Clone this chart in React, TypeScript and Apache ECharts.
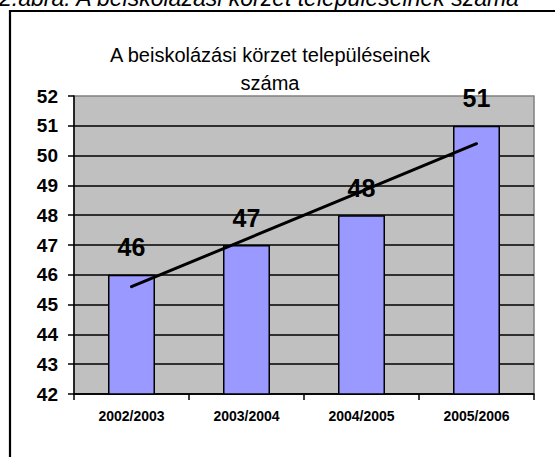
import React, { useEffect, useRef } from "react";
import * as echarts from "echarts";

const categories = ["2002/2003", "2003/2004", "2004/2005", "2005/2006"];
const settlements = [46, 47, 48, 51];
const trendValues = [45.6, 47.2, 48.8, 50.4];
const yMin = 42;
const yMax = 52;
const chartTitle = "A beiskolázási körzet településeinek\nszáma";
const caption = "2.ábra: A beiskolázási körzet településeinek száma";

const FONT = "Arial, 'Liberation Sans', sans-serif";

export default function App() {
  const ref = useRef<HTMLDivElement>(null);
  useEffect(() => {
    if (!ref.current) return;
    const chart = echarts.init(ref.current, null, { renderer: "svg" });
    chart.setOption({
      animation: false,
      backgroundColor: "#ffffff",
      title: {
        text: chartTitle,
        left: 265,
        top: 36,
        textAlign: "center",
        textStyle: {
          fontFamily: FONT,
          fontSize: 20,
          fontWeight: "normal",
          color: "#000",
          lineHeight: 28,
        },
      },
      graphic: [
        {
          type: "text",
          left: -1,
          top: -14,
          silent: true,
          style: {
            text: caption,
            font: "italic 23px " + FONT,
            fill: "#000",
          },
        },
        {
          type: "rect",
          shape: { x: 10, y: 11, width: 600, height: 470 },
          silent: true,
          z: -1,
          style: { fill: "none", stroke: "#000", lineWidth: 2.2 },
        },
      ],
      grid: {
        left: 74,
        right: 21,
        top: 96,
        bottom: 63,
        show: true,
        backgroundColor: "#C0C0C0",
        borderColor: "#808080",
        borderWidth: 1.5,
      },
      xAxis: {
        type: "category",
        data: categories,
        boundaryGap: true,
        axisLine: { show: true, lineStyle: { color: "#000", width: 1.5 } },
        axisTick: { show: true, length: 6, alignWithLabel: false, lineStyle: { color: "#000", width: 1.5 } },
        axisLabel: {
          fontFamily: FONT,
          fontSize: 14,
          fontWeight: "bold",
          color: "#000",
          margin: 15,
        },
        splitLine: { show: false },
      },
      yAxis: {
        type: "value",
        min: yMin,
        max: yMax,
        interval: 1,
        axisLine: { show: true, lineStyle: { color: "#000", width: 1.5 } },
        axisTick: { show: true, length: 6, lineStyle: { color: "#000", width: 1.5 } },
        axisLabel: {
          fontFamily: FONT,
          fontSize: 19,
          fontWeight: "bold",
          color: "#000",
          margin: 16,
        },
        splitLine: {
          show: true,
          showMaxLine: false,
          lineStyle: { color: "#000", width: 1.5 },
        },
      },
      series: [
        {
          type: "bar",
          data: settlements,
          barWidth: 47,
          itemStyle: { color: "#9999FF", borderColor: "#000", borderWidth: 1.5 },
          label: {
            show: true,
            position: "top",
            distance: 15,
            fontFamily: FONT,
            fontSize: 25,
            fontWeight: "bold",
            color: "#000",
          },
          z: 2,
        },
        {
          type: "line",
          data: trendValues,
          symbol: "none",
          lineStyle: { color: "#000", width: 3, cap: "round" },
          z: 3,
        },
      ],
    });
    return () => chart.dispose();
  }, []);
  return (
    <div
      ref={ref}
      style={{ position: "absolute", left: 0, top: 0, width: 555, height: 457 }}
    />
  );
}
